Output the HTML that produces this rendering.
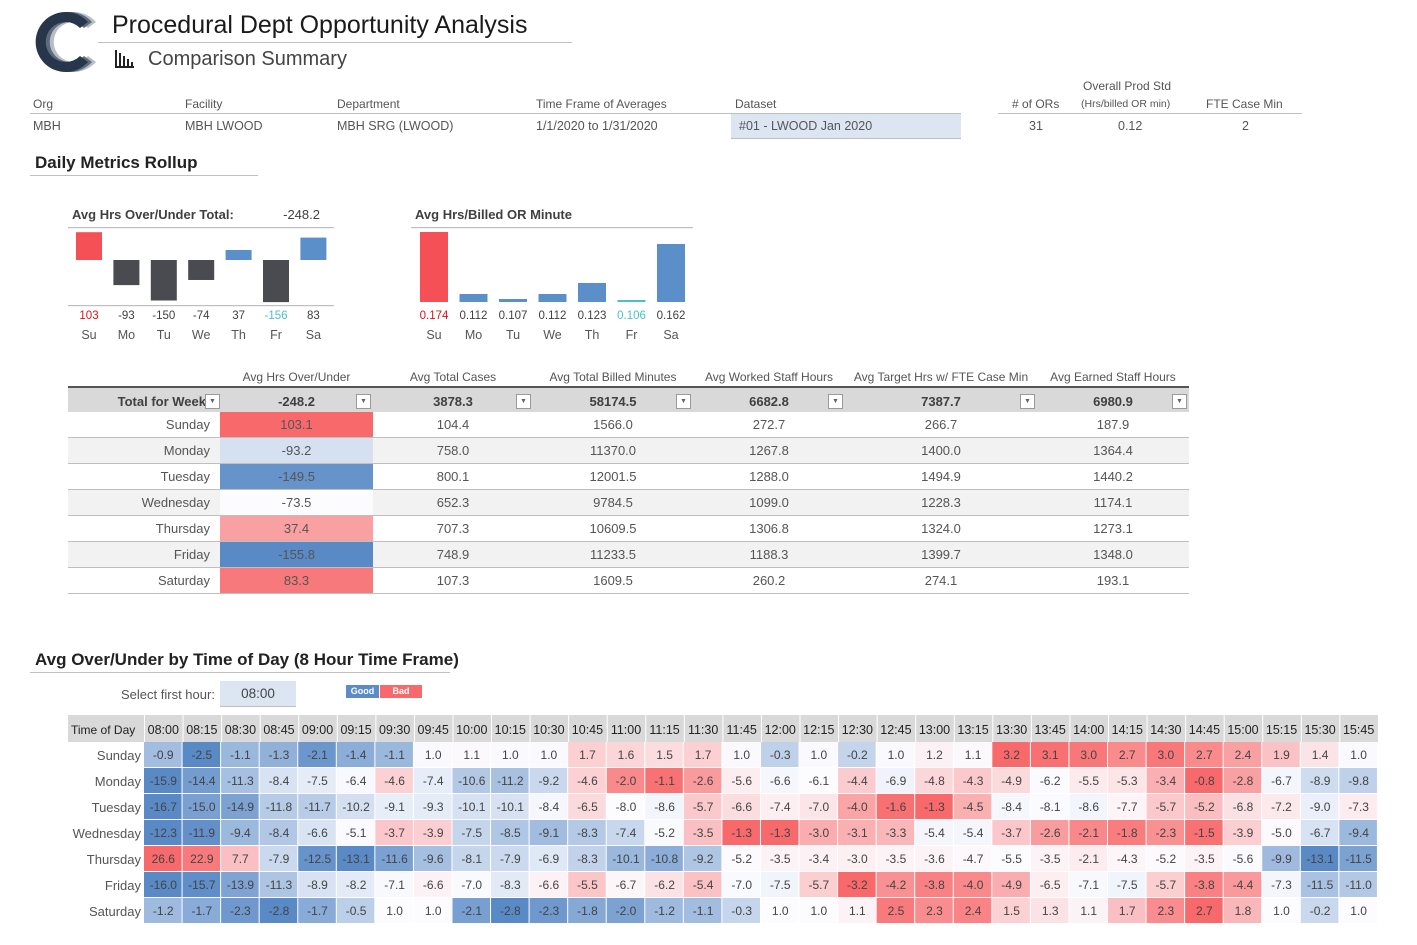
<!DOCTYPE html>
<html><head><meta charset="utf-8">
<style>
body{margin:0;width:1417px;height:945px;background:#fff;font-family:"Liberation Sans",sans-serif;color:#404040;position:relative;overflow:hidden}
.a{position:absolute;white-space:nowrap}
.hl{position:absolute;height:1px;background:#bfbfbf}
.lbl{font-size:12px;color:#555}
.val{font-size:12.5px;color:#555}
</style></head><body>
<svg class="a" style="left:26px;top:10px" width="72" height="66">
<path d="M62 12 A30 30 0 1 0 62 52 L54 46 A20 20 0 1 1 54 18 Z" fill="#b8bec6" transform="translate(8,0)"/>
<path d="M62 12 A30 30 0 1 0 62 52 L54 46 A20 20 0 1 1 54 18 Z" fill="#5d6b7d" transform="translate(4,0)"/>
<path d="M62 12 A30 30 0 1 0 62 52 L54 46 A20 20 0 1 1 54 18 Z" fill="#27364a"/>
</svg>
<div class="a" style="left:112px;top:11px;font-size:25px;color:#1a1a1a">Procedural Dept Opportunity Analysis</div>
<div class="hl" style="left:98px;top:42px;width:474px"></div>
<svg class="a" style="left:114px;top:49px" width="20" height="20"><rect x="1" y="1" width="2" height="17" fill="#222"/><rect x="1" y="17" width="19" height="2" fill="#222"/><rect x="5" y="4" width="2" height="13" fill="#222"/><rect x="9" y="7" width="2" height="10" fill="#222"/><rect x="13" y="10" width="2" height="7" fill="#222"/><rect x="17" y="13" width="2" height="4" fill="#222"/></svg>
<div class="a" style="left:148px;top:48px;font-size:20px;color:#444">Comparison Summary</div>

<div class="a lbl" style="left:33px;top:97px">Org</div>
<div class="a lbl" style="left:185px;top:97px">Facility</div>
<div class="a lbl" style="left:337px;top:97px">Department</div>
<div class="a lbl" style="left:536px;top:97px">Time Frame of Averages</div>
<div class="a lbl" style="left:735px;top:97px">Dataset</div>
<div class="hl" style="left:30px;top:113px;width:931px"></div>
<div class="a val" style="left:33px;top:119px">MBH</div>
<div class="a val" style="left:185px;top:119px">MBH LWOOD</div>
<div class="a val" style="left:337px;top:119px">MBH SRG (LWOOD)</div>
<div class="a val" style="left:536px;top:119px">1/1/2020 to 1/31/2020</div>
<div class="a val" style="left:731px;top:114px;width:222px;height:24px;line-height:24px;background:#dce6f2;padding-left:8px;border-bottom:1px solid #bfbfbf">#01 - LWOOD Jan 2020</div>
<div class="a lbl" style="left:1012px;top:97px"># of ORs</div>
<div class="a lbl" style="left:1083px;top:79px">Overall Prod Std</div>
<div class="a" style="left:1081px;top:98px;font-size:10.5px;color:#555">(Hrs/billed OR min)</div>
<div class="a lbl" style="left:1206px;top:97px">FTE Case Min</div>
<div class="hl" style="left:998px;top:113px;width:304px"></div>
<div class="a val" style="left:1029px;top:119px">31</div>
<div class="a val" style="left:1118px;top:119px">0.12</div>
<div class="a val" style="left:1242px;top:119px">2</div>

<div class="a" style="left:35px;top:153px;font-size:17px;font-weight:bold;color:#222">Daily Metrics Rollup</div>
<div class="hl" style="left:30px;top:175px;width:228px"></div>

<svg id="c1" class="a" style="left:60px;top:200px" width="290" height="150"></svg>
<svg id="c2" class="a" style="left:405px;top:200px" width="300" height="150"></svg>

<div id="tbl" class="a" style="left:68px;top:365px;width:1121px;height:232px"></div>

<div class="a" style="left:35px;top:650px;font-size:17px;font-weight:bold;color:#222">Avg Over/Under by Time of Day (8 Hour Time Frame)</div>
<div class="hl" style="left:30px;top:672px;width:420px"></div>
<div class="a" style="left:121px;top:687px;font-size:13px;color:#555">Select first hour:</div>
<div class="a" style="left:220px;top:681px;width:76px;height:25px;line-height:25px;text-align:center;background:#dce6f2;border-bottom:1px solid #bfbfbf;font-size:13.5px;color:#444">08:00</div>
<div class="a" style="left:346px;top:685px;width:33px;height:13px;background:#5b8bc8;color:#fff;font-size:9px;font-weight:bold;text-align:center;line-height:13px">Good</div>
<div class="a" style="left:380px;top:685px;width:42px;height:13px;background:#f8696b;color:#fff;font-size:9px;font-weight:bold;text-align:center;line-height:13px">Bad</div>

<svg id="hm" class="a" style="left:68px;top:715px" width="1320" height="212"></svg>

<script>
const dayAbbr=["Su","Mo","Tu","We","Th","Fr","Sa"];
const overUnder=[103,-93,-150,-74,37,-156,83];
const hrsPerMin=[0.174,0.112,0.107,0.112,0.123,0.106,0.162];
const overUnderTotal="-248.2";

const days=["Sunday","Monday","Tuesday","Wednesday","Thursday","Friday","Saturday"];
const colHeaders=["Avg Hrs Over/Under","Avg Total Cases","Avg Total Billed Minutes","Avg Worked Staff Hours","Avg Target Hrs w/ FTE Case Min","Avg Earned Staff Hours"];
const totals=["-248.2","3878.3","58174.5","6682.8","7387.7","6980.9"];
const hrsOU=[103.1,-93.2,-149.5,-73.5,37.4,-155.8,83.3];
const totalCases=[104.4,758.0,800.1,652.3,707.3,748.9,107.3];
const billedMin=[1566.0,11370.0,12001.5,9784.5,10609.5,11233.5,1609.5];
const workedHrs=[272.7,1267.8,1288.0,1099.0,1306.8,1188.3,260.2];
const targetHrs=[266.7,1400.0,1494.9,1228.3,1324.0,1399.7,274.1];
const earnedHrs=[187.9,1364.4,1440.2,1174.1,1273.1,1348.0,193.1];

const times=["08:00","08:15","08:30","08:45","09:00","09:15","09:30","09:45","10:00","10:15","10:30","10:45","11:00","11:15","11:30","11:45","12:00","12:15","12:30","12:45","13:00","13:15","13:30","13:45","14:00","14:15","14:30","14:45","15:00","15:15","15:30","15:45"];
const hmSun=[-0.9,-2.5,-1.1,-1.3,-2.1,-1.4,-1.1,1.0,1.1,1.0,1.0,1.7,1.6,1.5,1.7,1.0,-0.3,1.0,-0.2,1.0,1.2,1.1,3.2,3.1,3.0,2.7,3.0,2.7,2.4,1.9,1.4,1.0];
const hmMon=[-15.9,-14.4,-11.3,-8.4,-7.5,-6.4,-4.6,-7.4,-10.6,-11.2,-9.2,-4.6,-2.0,-1.1,-2.6,-5.6,-6.6,-6.1,-4.4,-6.9,-4.8,-4.3,-4.9,-6.2,-5.5,-5.3,-3.4,-0.8,-2.8,-6.7,-8.9,-9.8];
const hmTue=[-16.7,-15.0,-14.9,-11.8,-11.7,-10.2,-9.1,-9.3,-10.1,-10.1,-8.4,-6.5,-8.0,-8.6,-5.7,-6.6,-7.4,-7.0,-4.0,-1.6,-1.3,-4.5,-8.4,-8.1,-8.6,-7.7,-5.7,-5.2,-6.8,-7.2,-9.0,-7.3];
const hmWed=[-12.3,-11.9,-9.4,-8.4,-6.6,-5.1,-3.7,-3.9,-7.5,-8.5,-9.1,-8.3,-7.4,-5.2,-3.5,-1.3,-1.3,-3.0,-3.1,-3.3,-5.4,-5.4,-3.7,-2.6,-2.1,-1.8,-2.3,-1.5,-3.9,-5.0,-6.7,-9.4];
const hmThu=[26.6,22.9,7.7,-7.9,-12.5,-13.1,-11.6,-9.6,-8.1,-7.9,-6.9,-8.3,-10.1,-10.8,-9.2,-5.2,-3.5,-3.4,-3.0,-3.5,-3.6,-4.7,-5.5,-3.5,-2.1,-4.3,-5.2,-3.5,-5.6,-9.9,-13.1,-11.5];
const hmFri=[-16.0,-15.7,-13.9,-11.3,-8.9,-8.2,-7.1,-6.6,-7.0,-8.3,-6.6,-5.5,-6.7,-6.2,-5.4,-7.0,-7.5,-5.7,-3.2,-4.2,-3.8,-4.0,-4.9,-6.5,-7.1,-7.5,-5.7,-3.8,-4.4,-7.3,-11.5,-11.0];
const hmSat=[-1.2,-1.7,-2.3,-2.8,-1.7,-0.5,1.0,1.0,-2.1,-2.8,-2.3,-1.8,-2.0,-1.2,-1.1,-0.3,1.0,1.0,1.1,2.5,2.3,2.4,1.5,1.3,1.1,1.7,2.3,2.7,1.8,1.0,-0.2,1.0];
const hmRows=[hmSun,hmMon,hmTue,hmWed,hmThu,hmFri,hmSat];

const NS="http://www.w3.org/2000/svg";
function mk(p,tag,at,txt){const e=document.createElementNS(NS,tag);for(const k in at)e.setAttribute(k,at[k]);if(txt!==undefined)e.textContent=txt;p.appendChild(e);return e;}
function mix(a,b,t){return 'rgb('+a.map((v,i)=>Math.round(v+(b[i]-v)*t)).join(',')+')';}
const BLUE=[90,138,198],WHITE=[252,252,255],RED=[248,105,107];
function scale3(vals){const s=[...vals].sort((a,b)=>a-b);const mn=s[0],mx=s[s.length-1];const n=s.length;const md=n%2?s[(n-1)/2]:(s[n/2-1]+s[n/2])/2;
 return v=>{if(v<=md){const t=md===mn?0:(md-v)/(md-mn);return mix(WHITE,BLUE,t);}const t=mx===md?0:(v-md)/(mx-md);return mix(WHITE,RED,t);};}

// chart 1
(function(){const s=document.getElementById('c1');
 const t=mk(s,'text',{x:12,y:19,'font-size':13,'font-weight':'bold',fill:'#404040'},'Avg Hrs Over/Under Total:');
 const tv=mk(s,'text',{x:260,y:19,'font-size':13,'text-anchor':'end',fill:'#404040'},overUnderTotal);
 mk(s,'rect',{x:8,y:27,width:266,height:1.2,fill:'#bfbfbf'});
 mk(s,'rect',{x:8,y:105,width:266,height:1.2,fill:'#bfbfbf'});
 const zero=60,k=0.27,mn=Math.min(...overUnder),mx=Math.max(...overUnder);
 const yv=v=>zero-v*k;
 const x=i=>29+i*37.4;
 overUnder.forEach((v,i)=>{const col=v===mx?'#f55055':(v<0?'#4a4b50':'#5b8fca');
  const r=mk(s,'rect',{x:x(i)-13,y:Math.min(yv(v),zero),width:26,height:Math.abs(yv(v)-zero),fill:col});
  mk(s,'text',{x:x(i),y:119,'font-size':11.5,'text-anchor':'middle',fill:v===mx?'#e0101a':(v===mn?'#4bbfd0':'#404040')},String(v));
  mk(s,'text',{x:x(i),y:139,'font-size':12.5,'text-anchor':'middle',fill:'#555'},dayAbbr[i]);});
})();
// chart 2
(function(){const s=document.getElementById('c2');
 const t=mk(s,'text',{x:10,y:19,'font-size':13,'font-weight':'bold',fill:'#404040'},'Avg Hrs/Billed OR Minute');
 mk(s,'rect',{x:6,y:27,width:282,height:1.2,fill:'#bfbfbf'});
 const base=102,axMin=0.104,k=1000,mn=Math.min(...hrsPerMin),mx=Math.max(...hrsPerMin);
 const yv=v=>base-(v-axMin)*k;
 const x=i=>29+i*39.5;
 hrsPerMin.forEach((v,i)=>{const col=v===mx?'#f55055':(v===mn?'#4bbfd0':'#5b8fca');
  const r=mk(s,'rect',{x:x(i)-14,y:yv(v),width:28,height:base-yv(v),fill:col});
  mk(s,'text',{x:x(i),y:119,'font-size':11.5,'text-anchor':'middle',fill:v===mx?'#e0101a':(v===mn?'#4bbfd0':'#404040')},v.toFixed(3));
  mk(s,'text',{x:x(i),y:139,'font-size':12.5,'text-anchor':'middle',fill:'#555'},dayAbbr[i]);});
})();
// table
(function(){const d=document.getElementById('tbl');
 const cx=[0,152,305,465,625,777,969,1121];
 const cols=[hrsOU,totalCases,billedMin,workedHrs,targetHrs,earnedHrs];
 const sc=scale3(hrsOU);
 let h='';
 colHeaders.forEach((c,i)=>{h+=`<div class="a" style="left:${cx[i+1]}px;top:5px;width:${cx[i+2]-cx[i+1]}px;text-align:center;font-size:12px;color:#555">${c}</div>`;});
 h+=`<div class="a" style="left:0;top:21px;width:1121px;height:24px;background:#d9d9d9;border-top:2px solid #555;border-bottom:1px solid #555"></div>`;
 h+=`<div class="a" style="left:0;top:29px;width:138px;text-align:right;font-size:13px;font-weight:bold;color:#404040;overflow:hidden">Total for Week</div>`;
 const btn=x=>`<div class="a" style="left:${x}px;top:29px;width:13px;height:13px;background:#fff;border:1px solid #999;font-size:7px;line-height:13px;text-align:center;color:#666">▼</div>`;
 h+=btn(137);
 totals.forEach((t,i)=>{h+=`<div class="a" style="left:${cx[i+1]}px;top:29px;width:${cx[i+2]-cx[i+1]}px;text-align:center;font-size:13px;font-weight:bold;color:#404040">${t}</div>`;h+=btn(cx[i+2]-17);});
 days.forEach((dn,r)=>{const y=47+r*26;
  h+=`<div class="a" style="left:0;top:${y}px;width:1121px;height:25px;background:${r%2?'#f2f2f2':'#fff'};border-bottom:1px solid #bfbfbf"></div>`;
  h+=`<div class="a" style="left:0;top:${y+5}px;width:142px;text-align:right;font-size:13px;color:#555">${dn}</div>`;
  cols.forEach((c,i)=>{const bg=i===0?`background:${sc(c[r])};height:25px;`:'';
   h+=`<div class="a" style="left:${cx[i+1]}px;top:${y}px;width:${cx[i+2]-cx[i+1]}px;${bg}line-height:25px;text-align:center;font-size:13px;color:#555">${c[r].toFixed(1)}</div>`;});
 });
 d.innerHTML=h;
})();
// heatmap
(function(){const s=document.getElementById('hm');
 const lw=76,cw=38.56,rh=26,hh=27;
 mk(s,'rect',{x:0,y:0,width:lw+cw*times.length,height:hh,fill:'#d9d9d9'});
 mk(s,'text',{x:3,y:19,'font-size':12,fill:'#222'},'Time of Day');
 times.forEach((t,j)=>{mk(s,'text',{x:lw+cw*j+cw/2,y:19,'font-size':12.5,'text-anchor':'middle',fill:'#222'},t);
  mk(s,'rect',{x:lw+cw*j,y:0,width:1,height:hh,fill:'#fff'});});
 hmRows.forEach((row,r)=>{const sc=scale3(row);const y=hh+r*rh;
  mk(s,'text',{x:lw-3,y:y+18,'font-size':13,'text-anchor':'end',fill:'#555'},days[r]);
  row.forEach((v,j)=>{const c=mk(s,'rect',{x:lw+cw*j,y:y,width:cw-1,height:rh-1,fill:sc(v)});
   
   
   mk(s,'text',{x:lw+cw*j+cw/2,y:y+17,'font-size':12,'text-anchor':'middle',fill:'#444'},v.toFixed(1));});
 });
})();
</script>
</body></html>
